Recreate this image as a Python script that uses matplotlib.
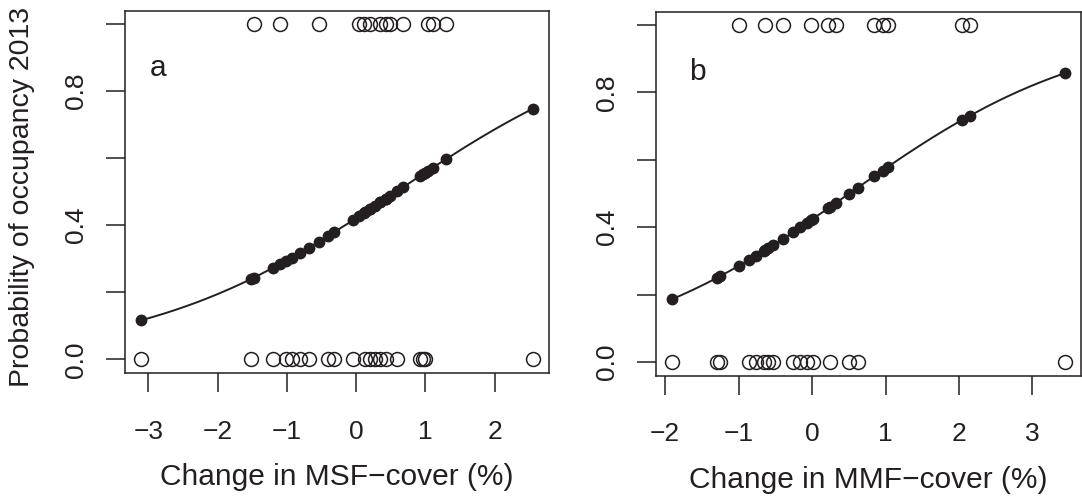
import matplotlib
matplotlib.use("Agg")
import matplotlib.pyplot as plt
import numpy as np

plt.rcParams['font.family'] = ['Liberation Sans', 'DejaVu Sans']

# ---- Panel a: MSF cover ----
a_x_absent = [-3.11, -1.52, -1.20, -1.01, -0.93, -0.81, -0.68, -0.40, -0.32, -0.04,
              0.13, 0.20, 0.27, 0.35, 0.43, 0.59, 0.92, 0.96, 1.00, 2.56]
a_p_absent = [0.116, 0.239, 0.273, 0.294, 0.303, 0.317, 0.333, 0.368, 0.379, 0.415,
              0.438, 0.448, 0.457, 0.468, 0.479, 0.501, 0.546, 0.552, 0.557, 0.748]
a_x_present = [-1.48, -1.10, -0.54, 0.04, 0.12, 0.20, 0.35, 0.43, 0.49, 0.68, 1.04, 1.11, 1.30]
a_p_present = [0.243, 0.284, 0.350, 0.426, 0.437, 0.448, 0.468, 0.479, 0.487, 0.513, 0.563, 0.572, 0.597]

# ---- Panel b: MMF cover ----
b_x_absent = [-1.91, -1.30, -1.25, -0.86, -0.76, -0.66, -0.60, -0.53, -0.26, -0.16,
              -0.07, 0.01, 0.24, 0.50, 0.62, 3.44]
b_p_absent = [0.186, 0.249, 0.255, 0.303, 0.316, 0.329, 0.337, 0.347, 0.385, 0.400,
              0.413, 0.425, 0.459, 0.499, 0.517, 0.857]
b_x_present = [-1.00, -0.64, -0.39, -0.01, 0.22, 0.33, 0.85, 0.96, 1.03, 2.04, 2.15]
b_p_present = [0.285, 0.332, 0.366, 0.422, 0.456, 0.473, 0.552, 0.568, 0.579, 0.718, 0.731]

a_xticks = [-3, -2, -1, 0, 1, 2]
b_xticks = [-2, -1, 0, 1, 2, 3]
yticks = [0.0, 0.2, 0.4, 0.6, 0.8, 1.0]
ytick_labels = ["0.0", "", "0.4", "", "0.8", ""]

xlabel_a = "Change in MSF\u2212cover (%)"
xlabel_b = "Change in MMF\u2212cover (%)"
ylabel = "Probability of occupancy 2013"

INK = '#231f20'
TICK_FS = 19
LAB_FS = 21.5

fig = plt.figure(figsize=(10.82, 4.97), dpi=100)
axa = fig.add_axes([125/1082, (497-372.7)/497, 424/1082, 362.1/497])
axb = fig.add_axes([656/1082, (497-375.5)/497, 424.5/1082, 364/497])


def smooth_line(xs, ps):
    # fitted curve drawn through the fitted points, interpolated on the logit scale
    ux, idx = np.unique(xs, return_index=True)
    up = ps[idx]
    lg = np.log(up / (1 - up))
    gx = np.linspace(ux.min(), ux.max(), 400)
    gl = np.interp(gx, ux, lg)
    return gx, 1 / (1 + np.exp(-gl))


def draw(ax, xa, pa, xp, pp, xticks, letter, letter_pos, xlabel):
    xs = np.array(xa + xp)
    ps = np.array(pa + pp)
    gx, gp = smooth_line(xs, ps)
    ax.plot(gx, gp, color=INK, lw=1.4, zorder=2)
    ax.plot(xs, ps, 'o', color=INK, ms=7.5, mec=INK, zorder=3)
    ax.plot(xa, np.zeros(len(xa)), 'o', mfc='none', mec=INK, mew=1.1, ms=10, zorder=3)
    ax.plot(xp, np.ones(len(xp)), 'o', mfc='none', mec=INK, mew=1.1, ms=10, zorder=3)
    lo, hi = xs.min(), xs.max()
    pad = 0.04 * (hi - lo)
    ax.set_xlim(lo - pad, hi + pad)
    ax.set_ylim(-0.04, 1.04)
    ax.set_xticks(xticks)
    ax.set_xticklabels([str(t).replace('-', '\u2212') for t in xticks])
    ax.set_yticks(yticks)
    ax.set_yticklabels(ytick_labels)
    ax.tick_params(axis='both', direction='out', length=13.7, width=1.1, colors=INK,
                   labelsize=TICK_FS, labelcolor=INK)
    ax.tick_params(axis='x', pad=20)
    ax.tick_params(axis='y', pad=13, labelrotation=90)
    for lab in ax.get_yticklabels():
        lab.set_va('center')
    for s in ax.spines.values():
        s.set_linewidth(1.1)
        s.set_color(INK)
    ax.text(letter_pos[0], letter_pos[1], letter, transform=ax.transAxes,
            ha='center', va='center', fontsize=LAB_FS, color=INK)
    ax.text(0.5, -0.287, xlabel, transform=ax.transAxes, ha='center', va='center',
            fontsize=LAB_FS, color=INK)


draw(axa, a_x_absent, a_p_absent, a_x_present, a_p_present, a_xticks, 'a', (0.078, 0.842), xlabel_a)
draw(axb, b_x_absent, b_p_absent, b_x_present, b_p_present, b_xticks, 'b', (0.0965, 0.834), xlabel_b)

axa.text(-0.243, 0.485, ylabel, transform=axa.transAxes, rotation=90, ha='center',
         va='center', fontsize=20.5, color=INK)

fig.savefig('out.png', dpi=100)
